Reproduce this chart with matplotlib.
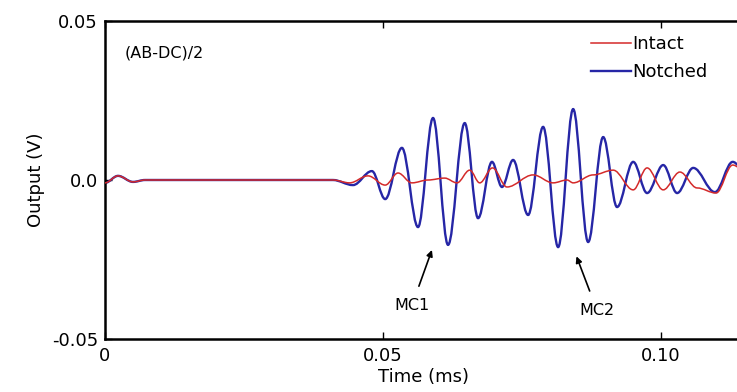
import matplotlib
matplotlib.use("Agg")
import matplotlib.pyplot as plt
from matplotlib.path import Path
from matplotlib.patches import PathPatch

plt.rcParams["font.family"] = ["DejaVu Sans"]

# Differential output (AB-DC)/2: turning points of each trace, time in ms, output in V
time_notched = [0.0, 0.00234, 0.00504, 0.0072, 0.0410, 0.0446, 0.0480, 0.0504,
                0.0534, 0.0563, 0.0590, 0.0617, 0.0647, 0.0671, 0.0696, 0.0714,
                0.0734, 0.0761, 0.0788, 0.0815, 0.0842, 0.0869, 0.0896, 0.0921,
                0.0950, 0.0975, 0.1004, 0.1029, 0.1058, 0.1097, 0.1129, 0.1150]
out_notched = [-0.0009, 0.0013, -0.0006, 0.0, 0.0, -0.0016, 0.0028, -0.0060,
               0.0101, -0.0148, 0.0195, -0.0204, 0.0179, -0.0120, 0.0057, -0.0022,
               0.0063, -0.0110, 0.0167, -0.0211, 0.0223, -0.0195, 0.0135, -0.0085,
               0.0057, -0.0041, 0.0047, -0.0041, 0.0038, -0.0038, 0.0057, 0.0030]

time_intact = [0.0, 0.00234, 0.00504, 0.0072, 0.0410, 0.0440, 0.0473, 0.0504,
               0.0527, 0.0552, 0.0581, 0.0611, 0.0633, 0.0656, 0.0674, 0.0697,
               0.0723, 0.0770, 0.0806, 0.0831, 0.0842, 0.0878, 0.0914, 0.0950,
               0.0975, 0.1004, 0.1034, 0.1065, 0.1099, 0.1129, 0.1150]
out_intact = [-0.0009, 0.0013, -0.0006, 0.0, 0.0, -0.0009, 0.0013, -0.0016,
              0.0022, -0.0009, 0.0, 0.0006, -0.0009, 0.0031, -0.0009, 0.0038,
              -0.0022, 0.0016, -0.0009, 0.0, -0.0009, 0.0016, 0.0031, -0.0031,
              0.0038, -0.0031, 0.0025, -0.0025, -0.0041, 0.0047, 0.0030]

xticks = [0.0, 0.05, 0.10]
xtick_labels = ["0", "0.05", "0.10"]
yticks = [-0.05, 0.0, 0.05]
ytick_labels = ["-0.05", "0.0", "0.05"]

BLUE = "#2626a6"
RED = "#d42a2a"


def trace_path(t, v, k=0.36):
    """Smooth curve through the turning points, flat tangent at each one."""
    verts = [(t[0], v[0])]
    codes = [Path.MOVETO]
    for i in range(len(t) - 1):
        dt = t[i + 1] - t[i]
        verts += [(t[i] + k * dt, v[i]), (t[i + 1] - k * dt, v[i + 1]), (t[i + 1], v[i + 1])]
        codes += [Path.CURVE4] * 3
    return Path(verts, codes)


W, H = 737, 392
fig = plt.figure(figsize=(W / 100, H / 100), dpi=100)
ax = fig.add_axes([105 / W, (H - 339) / H, (743 - 105) / W, (339 - 21) / H])

ax.add_patch(PathPatch(trace_path(time_notched, out_notched), fill=False,
                       edgecolor=BLUE, lw=1.7, zorder=2))
ax.add_patch(PathPatch(trace_path(time_intact, out_intact), fill=False,
                       edgecolor=RED, lw=1.1, zorder=3))
h_intact, = ax.plot([], [], color=RED, lw=1.1, label="Intact")
h_notched, = ax.plot([], [], color=BLUE, lw=1.7, label="Notched")

ax.set_xlim(0, 0.11475)
ax.set_ylim(-0.05, 0.05)
ax.set_xticks(xticks)
ax.set_xticklabels(xtick_labels)
ax.set_yticks(yticks)
ax.set_yticklabels(ytick_labels)
ax.tick_params(direction="in", length=5, width=1, labelsize=13, top=True)
ax.tick_params(axis="x", pad=6)
ax.tick_params(axis="y", pad=5)
for s in ax.spines.values():
    s.set_linewidth(1.8)

ax.set_xlabel("Time (ms)", fontsize=13, labelpad=2)
ax.set_ylabel("Output (V)", fontsize=13, labelpad=5)

ax.text(0.0035, 0.0398, "(AB-DC)/2", fontsize=11.5, va="center", ha="left")

ax.legend(handles=[h_intact, h_notched], loc="upper left",
          bbox_to_anchor=(0.748, 0.984), frameon=False, fontsize=13,
          handlelength=2.2, handletextpad=0.05, labelspacing=0.55, borderpad=0)

ax.annotate("MC1", xy=(0.0588, -0.0220), xytext=(0.0552, -0.0395),
            fontsize=11.5, ha="center", va="center",
            arrowprops=dict(arrowstyle="-|>", color="black", lw=1.2,
                            shrinkA=7, shrinkB=0, mutation_scale=9))
ax.annotate("MC2", xy=(0.0848, -0.0240), xytext=(0.0885, -0.041),
            fontsize=11.5, ha="center", va="center",
            arrowprops=dict(arrowstyle="-|>", color="black", lw=1.2,
                            shrinkA=7, shrinkB=0, mutation_scale=9))

fig.savefig("out.png", dpi=100)
